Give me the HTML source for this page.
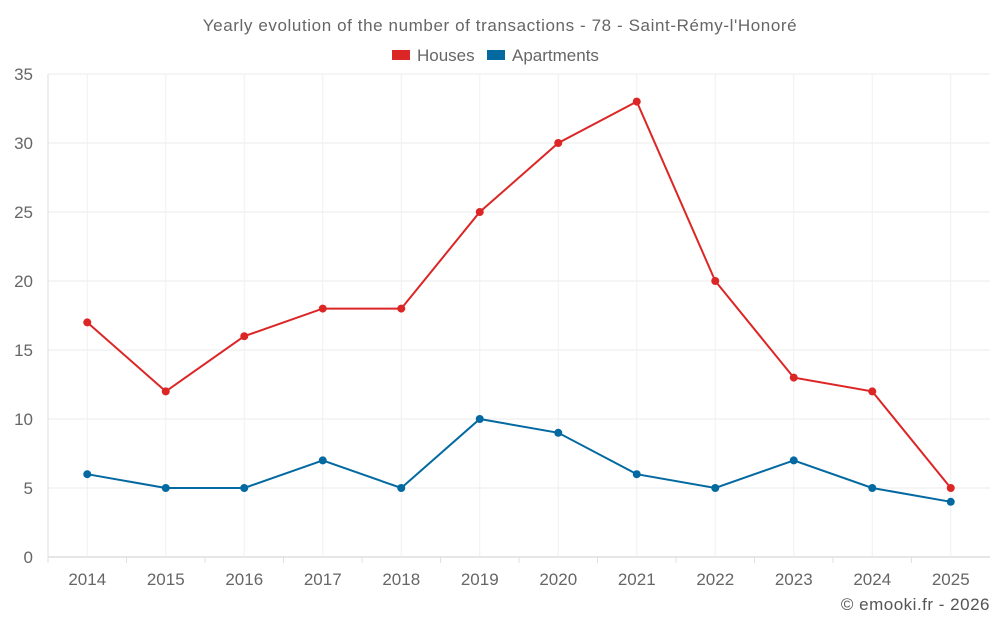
<!DOCTYPE html>
<html><head><meta charset="utf-8"><style>
body{margin:0;background:#fff;font-family:"Liberation Sans",sans-serif;}
svg text{font-family:"Liberation Sans",sans-serif;}
</style></head><body>
<svg id="chart" width="1000" height="625">
<text x="500" y="31" text-anchor="middle" font-size="17" letter-spacing="0.6" fill="#666">Yearly evolution of the number of transactions - 78 - Saint-Rémy-l'Honoré</text>
<g><rect x="392" y="50" width="18" height="10" fill="#dc2626"/><text x="417" y="61" font-size="17" fill="#666">Houses</text></g>
<g><rect x="487" y="50" width="18" height="10" fill="#0369a1"/><text x="512" y="61" font-size="17" fill="#666">Apartments</text></g>
<g id="grid"></g><g id="axes"></g><g id="series"></g>
<text x="990" y="610" text-anchor="end" font-size="17" letter-spacing="0.5" fill="#555">© emooki.fr - 2026</text>
</svg>
<script>
const categories=["2014","2015","2016","2017","2018","2019","2020","2021","2022","2023","2024","2025"];
const houses=[17,12,16,18,18,25,30,33,20,13,12,5];
const apartments=[6,5,5,7,5,10,9,6,5,7,5,4];
const yTicks=[0,5,10,15,20,25,30,35];
const L=48,R=990,T=74,B=557,yMax=35;
const bw=(R-L)/categories.length;
const x=i=>L+bw*(i+0.5);
const y=v=>B-(v/yMax)*(B-T);
const NS="http://www.w3.org/2000/svg";
function mk(p,t,a){const e=document.createElementNS(NS,t);for(const k in a)e.setAttribute(k,a[k]);p.appendChild(e);return e;}
const g=document.getElementById('grid'),ax=document.getElementById('axes'),s=document.getElementById('series');
yTicks.forEach(v=>{
 const l=mk(g,'line',{x1:L,x2:R,y1:y(v),y2:y(v),stroke:v===0?'#ccc':'#ebebeb'});
 
 
 const t=mk(ax,'text',{x:L-15,y:y(v)+6,'text-anchor':'end','font-size':17,fill:'#666'});t.textContent=v;
 
 
});
categories.forEach((c,i)=>{
 const l=mk(g,'line',{x1:x(i),x2:x(i),y1:T,y2:B,stroke:'#f0f0f0'});
 
 
 const tk=mk(ax,'line',{x1:L+bw*i,x2:L+bw*i,y1:B,y2:B+6,stroke:'#e0e0e0'});
 
 
 const t=mk(ax,'text',{x:x(i),y:B+28,'text-anchor':'middle','font-size':17,fill:'#666'});t.textContent=c;
 
 
});
const yl=mk(ax,'line',{x1:L,x2:L,y1:T,y2:B,stroke:'#ddd'});


function draw(data,color,name){
 const p=mk(s,'polyline',{points:data.map((v,i)=>x(i)+','+y(v)).join(' '),fill:'none',stroke:color,'stroke-width':2});
 
 
 data.forEach((v,i)=>{const c=mk(s,'circle',{cx:x(i),cy:y(v),r:4,fill:color});
  
  });
}
draw(houses,'#dc2626','houses');
draw(apartments,'#0369a1','apartments');
</script>
</body></html>
